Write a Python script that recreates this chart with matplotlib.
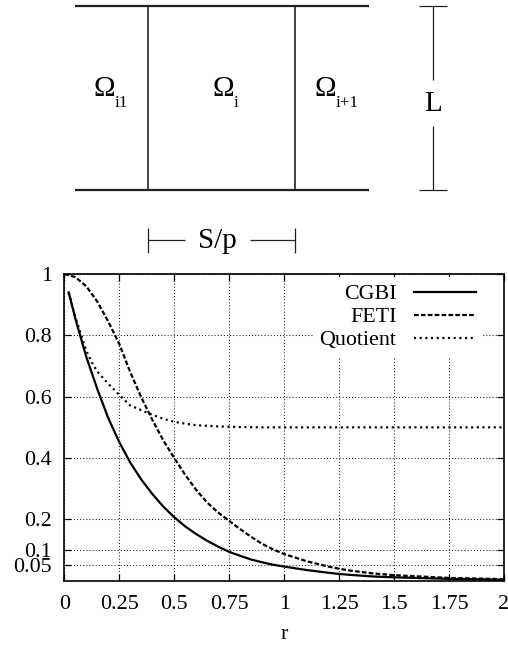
import matplotlib.pyplot as plt

plt.rcParams['font.family'] = ['Liberation Serif', 'DejaVu Serif']

# Curves
r_cgbi = [0.02, 0.05, 0.1, 0.15, 0.2, 0.25, 0.3, 0.35, 0.4, 0.45, 0.5, 0.55,
          0.6, 0.65, 0.7, 0.75, 0.8, 0.85, 0.9, 0.95, 1.0, 1.1, 1.2, 1.25,
          1.3, 1.4, 1.5, 1.75, 2.0]
cgbi = [0.94, 0.855, 0.73, 0.625, 0.53, 0.452, 0.385, 0.33, 0.283, 0.242, 0.207, 0.177,
        0.152, 0.13, 0.111, 0.094, 0.081, 0.069, 0.06, 0.052, 0.046, 0.035, 0.026, 0.022,
        0.019, 0.014, 0.011, 0.006, 0.003]

r_feti = [0.0, 0.05, 0.1, 0.15, 0.2, 0.25, 0.3, 0.35, 0.4, 0.45, 0.5, 0.55,
          0.6, 0.65, 0.7, 0.75, 0.8, 0.85, 0.9, 0.95, 1.0, 1.1, 1.2, 1.25,
          1.3, 1.4, 1.5, 1.75, 2.0]
feti = [1.0, 0.99, 0.96, 0.91, 0.845, 0.772, 0.68, 0.598, 0.525, 0.458, 0.40, 0.345,
        0.296, 0.255, 0.222, 0.195, 0.168, 0.143, 0.12, 0.102, 0.087, 0.064, 0.046, 0.039,
        0.033, 0.024, 0.018, 0.009, 0.005]

r_quot = [0.02, 0.05, 0.075, 0.1, 0.125, 0.15, 0.2, 0.25, 0.3, 0.35, 0.4, 0.45,
          0.5, 0.55, 0.6, 0.7, 0.8, 0.9, 1.0, 1.25, 1.5, 1.75, 2.0]
quot = [0.94, 0.86, 0.805, 0.75, 0.712, 0.682, 0.642, 0.606, 0.571, 0.556, 0.541, 0.528,
        0.518, 0.512, 0.507, 0.503, 0.501, 0.5, 0.5, 0.5, 0.5, 0.5, 0.5]

x_ticks = [0, 0.25, 0.5, 0.75, 1, 1.25, 1.5, 1.75, 2]
x_labels = ['0', '0.25', '0.5', '0.75', '1', '1.25', '1.5', '1.75', '2']
y_ticks = [0.05, 0.1, 0.2, 0.4, 0.6, 0.8, 1.0]
y_labels = ['0.05', '0.1', '0.2', '0.4', '0.6', '0.8', '1']

W, H = 508, 650
fs = 15.8
fig = plt.figure(figsize=(W / 100, H / 100), dpi=100)

# --- schematic on top, drawn in pixel coordinates ---
ov = fig.add_axes([0, 0, 1, 1])
ov.set_xlim(0, W)
ov.set_ylim(H, 0)
ov.axis('off')
k = dict(color='#222222', solid_capstyle='butt')
ov.plot([75, 369], [6, 6], lw=1.6, **k)
ov.plot([75, 369], [190, 190], lw=1.6, **k)
ov.plot([148.3, 148.3], [6, 190], lw=1.2, **k)
ov.plot([295, 295], [6, 190], lw=1.2, **k)
# height bracket
ov.plot([433, 433], [6, 80], lw=0.9, **k)
ov.plot([433, 433], [126, 190], lw=0.9, **k)
ov.plot([419, 447], [6, 6], lw=0.9, **k)
ov.plot([419, 447], [190, 190], lw=0.9, **k)
ov.text(433, 104, 'L', fontsize=21, ha='center', va='center')
# width bracket
ov.plot([148.3, 148.3], [228, 253], lw=0.9, **k)
ov.plot([295, 295], [228, 253], lw=0.9, **k)
ov.plot([148.3, 185], [240, 240], lw=0.9, **k)
ov.plot([250, 295], [240, 240], lw=0.9, **k)
ov.text(217, 241, 'S/p', fontsize=21, ha='center', va='center')
# subdomain labels
for xo, sub in [(104, 'i1'), (223, 'i'), (325, 'i+1')]:
    ov.text(xo, 89, '\u03a9', fontsize=21, ha='center', va='center')
    ov.text(xo + 11, 103, sub, fontsize=12.3, ha='left', va='center')

# --- plot ---
ax = fig.add_axes([64.3 / W, 1 - 580.7 / H, (504 - 64.3) / W, (580.7 - 274) / H])
ax.plot(r_cgbi, cgbi, color='black', lw=1.6, label='CGBI')
ax.plot(r_feti, feti, color='black', lw=1.6, ls=(0, (2.1, 1.0)), label='FETI')
ax.plot(r_quot, quot, color='black', lw=1.6, ls=(0, (0.95, 1.6)), label='Quotient')
ax.set_xlim(0, 2)
ax.set_ylim(0, 1)
ax.set_xticks(x_ticks, x_labels)
ax.set_yticks(y_ticks, y_labels)
ax.tick_params(direction='in', length=5, width=0.9, top=True, right=True,
               labelsize=fs, pad=9)
ax.tick_params(axis='x', pad=10)
ax.grid(True, color='#222222', lw=0.75, ls=(0, (1, 2)))
for s in ax.spines.values():
    s.set_linewidth(1.2)
ax.set_xlabel('r', fontsize=fs, labelpad=8)

leg = ax.legend(loc='upper right', bbox_to_anchor=(0.976, 1.025), markerfirst=False,
                fontsize=fs, handlelength=2.8, handletextpad=0.82,
                labelspacing=0.12, borderpad=0.3, frameon=True, fancybox=False,
                framealpha=1)
leg.get_frame().set_edgecolor('white')
leg.get_frame().set_linewidth(0)

fig.savefig('out.png', dpi=100)
